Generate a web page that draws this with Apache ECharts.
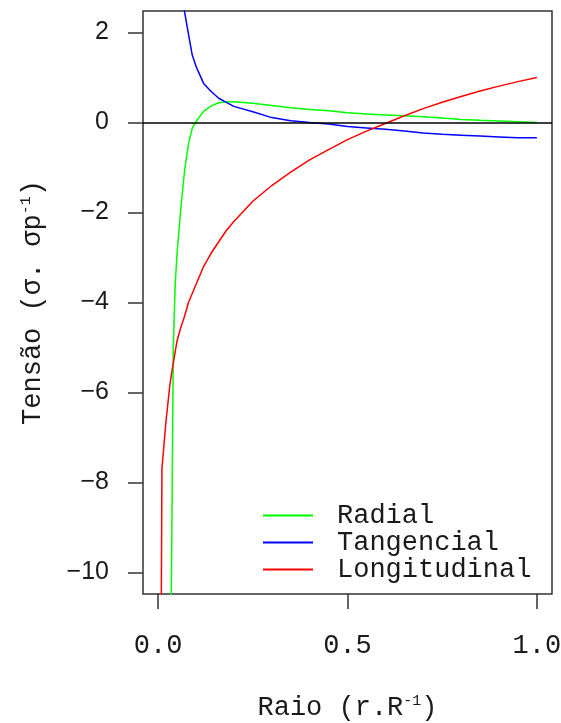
<!DOCTYPE html>
<html>
<head>
<meta charset="utf-8">
<script src="https://cdn.jsdelivr.net/npm/echarts@6/dist/echarts.min.js"></script>
<style>
html,body{margin:0;padding:0;background:#fff;}
#chart{width:561px;height:723px;}
</style>
</head>
<body>
<div id="chart"></div>
<script>
// Raio (r/R)
const radius = [0.007, 0.01, 0.02, 0.03, 0.035, 0.04, 0.045, 0.05, 0.06, 0.07, 0.08, 0.09, 0.10, 0.12, 0.14, 0.16, 0.18, 0.20, 0.25, 0.30, 0.35, 0.40, 0.45, 0.50, 0.55, 0.60, 0.65, 0.70, 0.75, 0.80, 0.85, 0.90, 0.95, 1.00];
// Tensão (σ/σp) per series
const radial = [-90, -60, -35, -18, -10.3, -5.0, -3.6, -2.9, -1.9, -1.05, -0.48, -0.13, 0.02, 0.25, 0.37, 0.44, 0.46, 0.46, 0.43, 0.38, 0.33, 0.29, 0.26, 0.22, 0.19, 0.17, 0.15, 0.13, 0.10, 0.07, 0.05, 0.035, 0.02, 0.0];
const tangencial = [40, 28, 13, 8, 6.6, 5.6, 4.8, 4.2, 3.1, 2.45, 1.97, 1.5, 1.25, 0.87, 0.69, 0.54, 0.45, 0.36, 0.24, 0.11, 0.04, 0.0, -0.03, -0.09, -0.12, -0.15, -0.19, -0.23, -0.26, -0.28, -0.30, -0.32, -0.34, -0.34];
const longitudinal = [-13, -7.7, -6.7, -5.9, -5.6, -5.35, -5.1, -4.85, -4.55, -4.3, -4.0, -3.8, -3.6, -3.2, -2.9, -2.65, -2.4, -2.2, -1.75, -1.4, -1.1, -0.83, -0.6, -0.38, -0.19, -0.02, 0.15, 0.31, 0.45, 0.58, 0.70, 0.81, 0.91, 1.0];
const seriesNames = ['Radial', 'Tangencial', 'Longitudinal'];
const xTickValues = [0, 0.5, 1];
const xTickLabels = ['0.0', '0.5', '1.0'];
const yTickValues = [-10, -8, -6, -4, -2, 0, 2];
const yTickLabels = ['\u221210', '\u22128', '\u22126', '\u22124', '\u22122', '0', '2'];

const pairs = vals => radius.map((r, i) => [r, vals[i]]);
const mono = 'Liberation Mono';
const sans = 'Liberation Sans';
const ink = '#1a1a1a';

const chart = echarts.init(document.getElementById('chart'), null, {renderer: 'canvas'});
const lineSeries = (name, vals, color) => ({
  name, type: 'line', data: pairs(vals), showSymbol: false, symbol: 'none',
  smooth: false, clip: true, lineStyle: {color, width: 1.5}, itemStyle: {color},
  emphasis: {disabled: true}
});
const option = {
  animation: false,
  backgroundColor: '#fff',
  grid: {left: 143, top: 11, width: 409, height: 583, show: true, borderColor: '#333', borderWidth: 1.5, outerBoundsMode: 'none', containLabel: false},
  xAxis: {
    type: 'value', min: -0.04, max: 1.04, position: 'bottom',
    axisLine: {show: false, onZero: false},
    splitLine: {show: false},
    axisTick: {show: true, length: 15, customValues: xTickValues, lineStyle: {color: '#333', width: 1.5}},
    axisLabel: {show: true, customValues: xTickValues, margin: 38,
      formatter: v => xTickLabels[xTickValues.indexOf(v)],
      fontFamily: mono, fontSize: 27, color: ink},
    name: 'Raio (r.R{s|-1})', nameLocation: 'middle', nameGap: 100,
    nameTextStyle: {fontFamily: mono, fontSize: 27, color: ink,
      rich: {s: {fontFamily: mono, fontSize: 15, color: ink, verticalAlign: 'top', lineHeight: 15}}}
  },
  yAxis: {
    type: 'value', min: -10.48, max: 2.48, position: 'left',
    axisLine: {show: false, onZero: false},
    splitLine: {show: false},
    axisTick: {show: true, length: 15, customValues: yTickValues, lineStyle: {color: '#333', width: 1.5}},
    axisLabel: {show: true, customValues: yTickValues, margin: 34,
      formatter: v => yTickLabels[yTickValues.indexOf(v)],
      fontFamily: sans, fontSize: 25, color: ink},
    name: 'Tensão (σ. σp{s|-1})', nameLocation: 'middle', nameGap: 97, nameRotate: 90,
    nameTextStyle: {fontFamily: mono, fontSize: 27, color: ink,
      rich: {s: {fontFamily: mono, fontSize: 15, color: ink, verticalAlign: 'top', lineHeight: 15}}}
  },
  legend: {
    show: true, orient: 'vertical', left: 263, top: 502, padding: 0,
    data: seriesNames, icon: 'rect', itemWidth: 50, itemHeight: 2, itemGap: 0,
    selectedMode: false,
    textStyle: {fontFamily: mono, fontSize: 27, color: ink, lineHeight: 26, padding: [0, 0, 0, 19]}
  },
  series: [
    lineSeries(seriesNames[0], radial, '#00ff00'),
    lineSeries(seriesNames[1], tangencial, '#0000ff'),
    Object.assign(lineSeries(seriesNames[2], longitudinal, '#ff0000'), {
      markLine: {silent: true, symbol: ['none', 'none'], label: {show: false},
        lineStyle: {color: '#000', width: 1.5, type: 'solid'}, data: [{yAxis: 0}]}
    })
  ]
};
chart.setOption(option);
</script>
</body>
</html>
